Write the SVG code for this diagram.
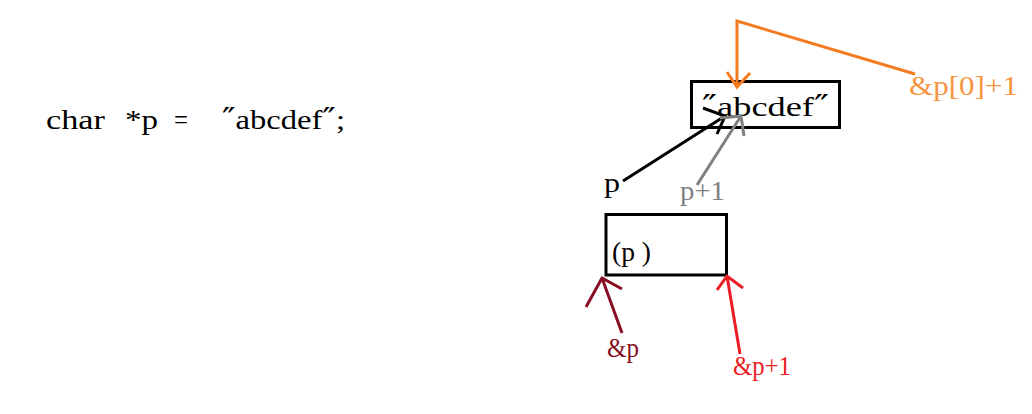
<svg xmlns="http://www.w3.org/2000/svg" width="1032" height="414" viewBox="0 0 1032 414">
<style>
text{font-family:"Liberation Serif","Noto Sans CJK SC",serif;font-size:27px;}
.q{font-family:"DejaVu Serif",serif;font-size:30px;}
.box{fill:#fff;stroke:#000;stroke-width:3;}
.ln{fill:none;stroke-width:3;stroke-linecap:butt;stroke-linejoin:miter;}
</style>
<rect width="1032" height="414" fill="#fff"/>
<g id="code">
<text x="46" y="129" textLength="59" lengthAdjust="spacingAndGlyphs" fill="#000">char</text>
<text x="125" y="129" textLength="33" lengthAdjust="spacingAndGlyphs" fill="#000">*p</text>
<text x="174" y="129" textLength="14" lengthAdjust="spacingAndGlyphs" fill="#000">=</text>
<text x="222" y="129" textLength="123" lengthAdjust="spacingAndGlyphs" fill="#000"><tspan class="q">″</tspan>abcdef<tspan class="q">″</tspan>;</text>
</g>
<g id="string-node"><rect class="box" x="691.5" y="81.5" width="148" height="46"/><text x="702" y="116" textLength="127" lengthAdjust="spacingAndGlyphs" fill="#000"><tspan class="q">″</tspan>abcdef<tspan class="q">″</tspan></text></g>
<g id="p-node"><rect class="box" x="606" y="214.5" width="120.5" height="60.5"/><text x="612" y="261" textLength="39" lengthAdjust="spacingAndGlyphs" fill="#000">(p )</text></g>
<g id="labels">
<text x="604" y="192" textLength="16" lengthAdjust="spacingAndGlyphs" fill="#000">p</text>
<text x="680" y="200" textLength="45" lengthAdjust="spacingAndGlyphs" fill="#808080">p+1</text>
<text x="909" y="95" textLength="109" lengthAdjust="spacingAndGlyphs" fill="#f7943e">&amp;p[0]+1</text>
<text x="607" y="357" textLength="32" lengthAdjust="spacingAndGlyphs" fill="#880e23">&amp;p</text>
<text x="733" y="375" textLength="58" lengthAdjust="spacingAndGlyphs" fill="#ed1c24">&amp;p+1</text>
</g>
<g id="connectors">
<path class="ln" stroke="#f47b20" d="M915,74 L737,21 L737,87 M727,72 L737,87 L750,73"/>
<path class="ln" stroke="#000" d="M623,181 L725,116 M703,108 L725,116 L717,134"/>
<path class="ln" stroke="#808080" d="M697,185 L741,116 M720,118 L741,116 L744,136"/>
<path class="ln" stroke="#880e23" d="M622,333 L602,278 M586,307 L602,278 L622,289"/>
<path class="ln" stroke="#ed1c24" d="M740,354 L727,276 M717,290 L727,276 L743,288"/>
</g>
</svg>
